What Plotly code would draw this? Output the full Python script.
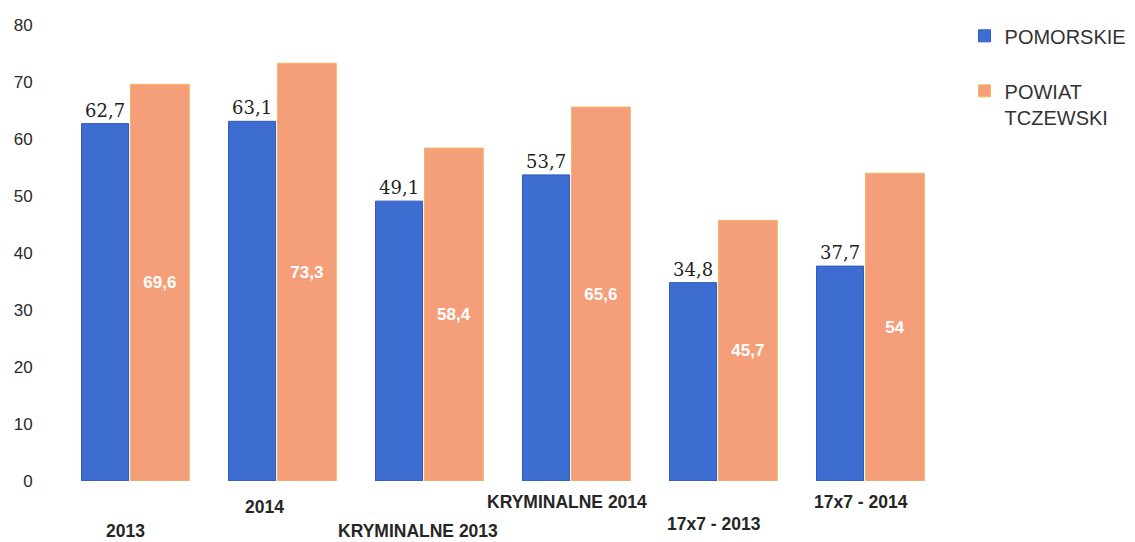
import plotly.graph_objects as go

categories = ["2013", "2014", "KRYMINALNE 2013", "KRYMINALNE 2014", "17x7 - 2013", "17x7 - 2014"]
pomorskie = [62.7, 63.1, 49.1, 53.7, 34.8, 37.7]
powiat = [69.6, 73.3, 58.4, 65.6, 45.7, 54]
label_rows = [0, 3, 0, 4, 1, 4]   # staggered category label rows (0 = lowest)
label_nudge = [-10, -18, -12, -10, -10, -10]
y_ticks = [0, 10, 20, 30, 40, 50, 60, 70, 80]

xpos = list(range(len(categories)))


def fmt(v):
    s = ("%g" % v)
    return s.replace(".", ",")


fig = go.Figure()
fig.add_trace(go.Bar(
    x=xpos, y=pomorskie, name="POMORSKIE",
    legendgroup="a",
    width=0.32, offset=-0.367,
    marker=dict(color="#3E6DD1", line=dict(color="#2F58BA", width=1)),
    text=[fmt(v) for v in pomorskie], textposition="outside",
    textfont=dict(family="DejaVu Serif", size=18, color="#1E1E1E"),
    cliponaxis=False,
))
fig.add_trace(go.Bar(
    x=xpos, y=powiat, name="POWIAT<br>TCZEWSKI",
    legendgroup="b",
    width=0.40, offset=-0.034,
    marker=dict(color="#F49F79", line=dict(color="#F3B565", width=1)),
    text=["<b>" + fmt(v) + "</b>" for v in powiat], textposition="inside",
    insidetextanchor="middle", textangle=0,
    textfont=dict(family="Liberation Sans", size=17, color="#FFFFFF"),
))

row_y = {0: -0.109, 1: -0.095, 3: -0.058, 4: -0.045}
for xi, cat, row, dx in zip(xpos, categories, label_rows, label_nudge):
    fig.add_annotation(
        x=xi, xref="x", y=row_y[row], yref="paper",
        text="<b>" + cat + "</b>", showarrow=False, xshift=dx, yanchor="middle",
        font=dict(family="Liberation Sans", size=17.5, color="#262626"),
    )

fig.update_layout(
    width=1135, height=542,
    margin=dict(l=54, r=199, t=17, b=69, autoexpand=False),
    paper_bgcolor="white", plot_bgcolor="white",
    barmode="overlay",
    legend=dict(
        x=1.0233, y=1.019, xanchor="left", yanchor="top",
        font=dict(family="Liberation Sans", size=20, color="#333333"),
        tracegroupgap=26, valign="top",
        bgcolor="rgba(0,0,0,0)",
    ),
    xaxis=dict(range=[-0.5, len(categories) - 0.5], showticklabels=False, showgrid=False,
               zeroline=False, showline=False, ticks="", automargin=False),
    yaxis=dict(
        range=[0, 80], tickvals=y_ticks,
        ticktext=[str(t) + "\u00a0" * 6 for t in y_ticks],
        showgrid=False, zeroline=False, showline=False, ticks="", automargin=False,
        tickfont=dict(family="Liberation Sans", size=17, color="#2A2A2A"),
    ),
)

fig.write_html("out.html")
